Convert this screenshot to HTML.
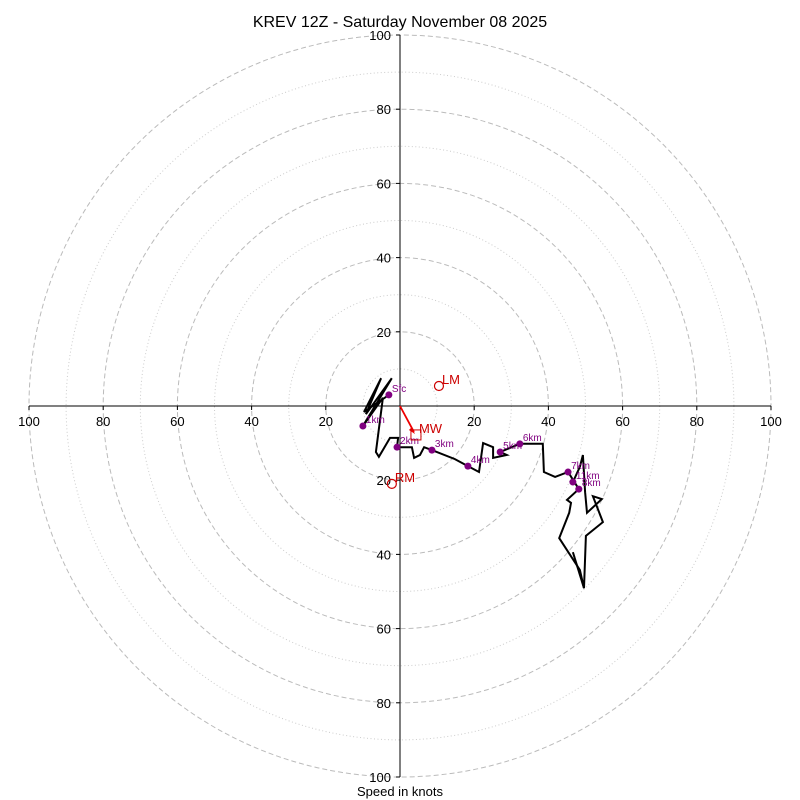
<!DOCTYPE html>
<html><head><meta charset="utf-8">
<style>
body{margin:0;background:#fff;}
svg{display:block;font-family:"Liberation Sans","DejaVu Sans",sans-serif;}
</style></head>
<body>
<svg id="chart" width="800" height="800" viewBox="0 0 800 800" xmlns="http://www.w3.org/2000/svg">
<text x="400" y="27" text-anchor="middle" font-size="16">KREV 12Z - Saturday November 08 2025</text>
<text x="400" y="796" text-anchor="middle" font-size="13">Speed in knots</text>
<g id="rings"></g><g id="axes"></g><g id="trace"></g><g id="marks"></g>
</svg>
<script>
const ringValues=[10,20,30,40,50,60,70,80,90,100];
const tickLabels=["20","40","60","80","100"];
const tickValues=[20,40,60,80,100];
const traceU=[-3.0,-9.7,-5.1,-9.2,-2.2,-10.0,-4.6,-6.5,-5.7,-2.7,-0.5,-0.8,3.2,3.8,5.4,6.5,8.6,14.8,18.3,21.3,22.4,25.1,25.1,28.8,27.0,32.3,38.5,38.8,41.8,45.3,48.2,45.0,46.1,45.6,42.9,48.5,49.6,50.1,54.7,52.0,54.4,50.4,49.9,49.3,48.5,46.6];
const traceV=[3.0,-1.6,7.5,-2.2,7.5,-5.4,2.2,-12.4,-13.7,-8.6,-8.6,-11.1,-11.1,-14.0,-13.2,-11.1,-11.9,-14.3,-16.2,-17.8,-10.0,-11.1,-14.0,-13.2,-12.4,-10.2,-10.2,-17.8,-19.1,-17.8,-22.4,-25.3,-26.1,-28.8,-35.6,-44.2,-49.1,-35.0,-31.3,-24.3,-25.1,-28.8,-23.2,-13.2,-16.4,-20.5];
const stubU=[46.6,49.6];
const stubV=[-39.4,-49.1];
const dotLabels=["Sfc","1km","2km","3km","4km","5km","6km","7km","8km","11km"];
const dotU=[-3.0,-10.0,-0.8,8.6,18.3,27.0,32.3,45.3,48.2,46.6];
const dotV=[3.0,-5.4,-11.1,-11.9,-16.2,-12.4,-10.2,-17.8,-22.4,-20.5];
const motionNames=["LM","RM","MW"];
const motionU=[10.5,-2.2,4.3];
const motionV=[5.4,-21.0,-7.8];

const CX=400,CY=406,S=3.71;
const sx=u=>CX+u*S, sy=v=>CY-v*S;
const NS="http://www.w3.org/2000/svg";
function mk(tag,attrs,parent){const e=document.createElementNS(NS,tag);for(const k in attrs)e.setAttribute(k,attrs[k]);parent.appendChild(e);return e;}
const rings=document.getElementById('rings'),axes=document.getElementById('axes'),trace=document.getElementById('trace'),marks=document.getElementById('marks');

ringValues.forEach(r=>{
  const major=r%20===0;
  const c=mk('circle',{cx:CX,cy:CY,r:r*S,fill:'none',stroke:major?'#bbb':'#ccc','stroke-width':1,'stroke-dasharray':major?'5,3':'1,2.5'},rings);
  
  
});
const ax1=mk('line',{x1:sx(-100),y1:CY,x2:sx(100),y2:CY,stroke:'#000','stroke-width':1},axes);


const ax2=mk('line',{x1:CX,y1:sy(100),x2:CX,y2:sy(-100),stroke:'#000','stroke-width':1},axes);


tickValues.forEach((t,i)=>{
  [[sx(t)],[sx(-t)]].forEach(([x])=>{
    mk('line',{x1:x,y1:CY,x2:x,y2:CY+4,stroke:'#000'},axes);
    const tx=mk('text',{x:x,y:CY+20,'text-anchor':'middle','font-size':13},axes);
    tx.textContent=tickLabels[i];
    
    
  });
  [sy(t),sy(-t)].forEach(y=>{
    mk('line',{x1:CX-4,y1:y,x2:CX,y2:y,stroke:'#000'},axes);
    const ty=mk('text',{x:CX-9,y:y+5,'text-anchor':'end','font-size':13},axes);
    ty.textContent=tickLabels[i];
    
    
  });
});
const pts=traceU.map((u,i)=>sx(u).toFixed(1)+','+sy(traceV[i]).toFixed(1)).join(' ');
const pl=mk('polyline',{points:pts,fill:'none',stroke:'#000','stroke-width':2,'stroke-linejoin':'miter'},trace);


const st=mk('polyline',{points:stubU.map((u,i)=>sx(u)+','+sy(stubV[i])).join(' '),fill:'none',stroke:'#000','stroke-width':2},trace);



dotU.forEach((u,i)=>{
  const d=mk('circle',{cx:sx(u),cy:sy(dotV[i]),r:3.5,fill:'#800080'},marks);
  
  
  const t=mk('text',{x:sx(u)+3,y:sy(dotV[i])-3,'font-size':10,fill:'#800080'},marks);
  t.textContent=dotLabels[i];
  
  
});
const mwx=sx(motionU[2]),mwy=sy(motionV[2]);
const ar=mk('line',{x1:CX,y1:CY,x2:mwx-2,y2:mwy-3,stroke:'#e00','stroke-width':1.8},marks);


mk('path',{d:`M${mwx-4},${mwy-8} L${mwx-1},${mwy-1} L${mwx-7},${mwy-5} Z`,fill:'#e00'},marks);
motionNames.forEach((n,i)=>{
  const x=sx(motionU[i]),y=sy(motionV[i]);
  let m;
  if(n==='MW') m=mk('rect',{x:x-5,y:y-5,width:10,height:10,fill:'none',stroke:'#c00','stroke-width':1},marks);
  else m=mk('circle',{cx:x,cy:y,r:4.5,fill:'none',stroke:'#c00','stroke-width':1.2},marks);
  
  
  const t=mk('text',{x:x+3,y:y-2,'font-size':13,fill:'#c00'},marks);
  t.textContent=n;
  
  
});
</script>
</body></html>
